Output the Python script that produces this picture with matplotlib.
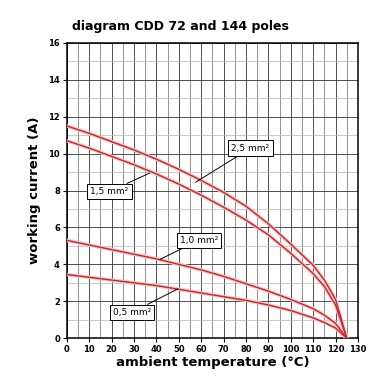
import matplotlib
matplotlib.use("Agg")
import matplotlib.pyplot as plt
from matplotlib.ticker import MultipleLocator

# values (ambient temperature in °C, current in A)
temps = [0, 10, 20, 30, 40, 50, 60, 70, 80, 90, 100, 110, 115, 120, 125]
i_25 = [11.5, 11.1, 10.65, 10.2, 9.7, 9.15, 8.55, 7.9, 7.15, 6.2, 5.1, 3.95, 3.15, 2.1, 0]
i_15 = [10.7, 10.3, 9.85, 9.4, 8.9, 8.35, 7.75, 7.1, 6.4, 5.6, 4.6, 3.5, 2.8, 1.8, 0]
i_10 = [5.3, 5.05, 4.8, 4.55, 4.3, 4.0, 3.7, 3.35, 2.95, 2.55, 2.1, 1.6, 1.25, 0.8, 0]
i_05 = [3.45, 3.3, 3.15, 3.0, 2.85, 2.65, 2.45, 2.25, 2.05, 1.8, 1.5, 1.1, 0.85, 0.55, 0]

labels = ["2,5 mm²", "1,5 mm²", "1,0 mm²", "0,5 mm²"]
# label box position, point on the curve
label_pos = [(82, 10.3), (19, 7.95), (59, 5.3), (29, 1.4)]
label_tip = [(57.5, 8.45), (37, 8.95), (41.5, 4.27), (49.5, 2.67)]

fig = plt.figure(figsize=(3.8, 3.8), dpi=100)
ax = fig.add_axes([0.176, 0.11, 0.766, 0.777])

for ser in [i_25, i_15, i_10, i_05]:
    ax.plot(temps, ser, color="#f7c4c4", lw=2.6, solid_capstyle="round", zorder=3)
    ax.plot(temps, ser, color="#c8262b", lw=1.0, zorder=4)

for txt, pos, tip in zip(labels, label_pos, label_tip):
    ax.annotate(txt, xy=tip, xytext=pos, ha="center", va="center",
                fontsize=6.5, zorder=6,
                bbox=dict(boxstyle="square,pad=0.35", fc="white", ec="black", lw=0.7),
                arrowprops=dict(arrowstyle="-", color="black", lw=0.7,
                                shrinkA=0, shrinkB=0))

ax.set_xlim(0, 130)
ax.set_ylim(0, 16)
ax.xaxis.set_major_locator(MultipleLocator(10))
ax.xaxis.set_minor_locator(MultipleLocator(5))
ax.yaxis.set_major_locator(MultipleLocator(2))
ax.yaxis.set_minor_locator(MultipleLocator(1))
ax.grid(which="major", color="#333333", lw=0.6)
ax.grid(which="minor", axis="x", color="#666666", lw=0.5)
ax.grid(which="minor", axis="y", color="#b5b5b5", lw=0.5)
ax.set_axisbelow(True)
for sp in ax.spines.values():
    sp.set_linewidth(1.1)

ax.tick_params(which="major", length=3, width=0.8, labelsize=6, pad=2)
ax.tick_params(which="minor", length=0)
for lab in ax.get_xticklabels() + ax.get_yticklabels():
    lab.set_fontweight("bold")

ax.set_title("diagram CDD 72 and 144 poles", fontsize=9, fontweight="bold",
             x=0.39, pad=9)
ax.set_xlabel("ambient temperature (°C)", fontsize=9.5, fontweight="bold", labelpad=1)
ax.set_ylabel("working current (A)", fontsize=9.5, fontweight="bold", labelpad=5)

fig.savefig("out.png", dpi=100)
